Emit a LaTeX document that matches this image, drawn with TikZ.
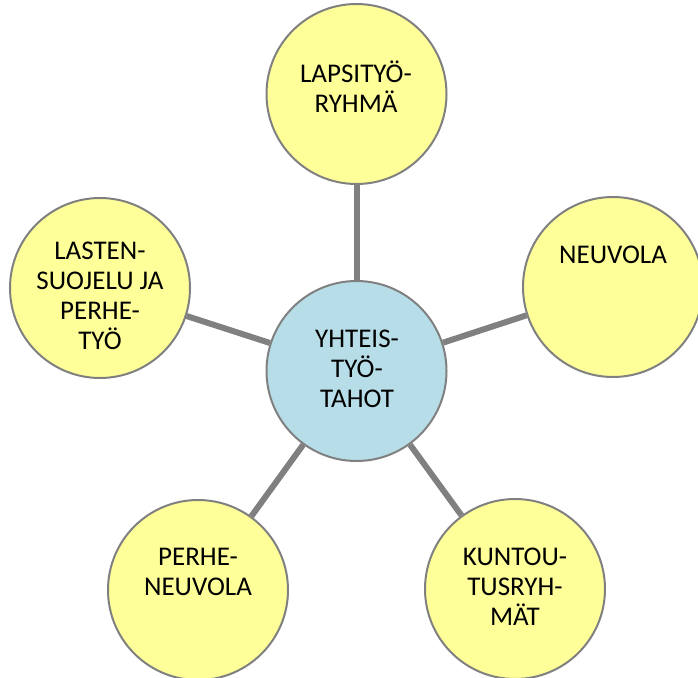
\documentclass[tikz,border=0pt]{standalone}
\usepackage{fontspec}
\setmainfont{Carlito}
\usetikzlibrary{calc}
\definecolor{pale}{RGB}{255,255,153}
\definecolor{paleblue}{RGB}{183,222,232}
\definecolor{rim}{RGB}{128,128,128}
\tikzset{
  ball/.style={circle, draw=rim, line width=2pt, fill=pale, minimum size=180pt, inner sep=0pt},
  hub/.style={ball, fill=paleblue},
  tag/.style={align=center, font=\fontsize{27}{30}\selectfont, inner sep=0pt},
  spoke/.style={draw=rim, line width=6pt}
}
\begin{document}
\begin{tikzpicture}[x=1pt, y=-1pt]
        \useasboundingbox (0,0) rectangle (698,677);
        \clip (0,0) rectangle (698,677);

        \node[hub]  (tahot)   at (356.5,371) {};
        \node[ball] (lapsi)   at (356.5,94)  {};
        \node[ball] (neuvola) at (613,287) {};
        \node[ball] (lasten)  at (100,288) {};
        \node[ball] (perhe)   at (198,590) {};
        \node[ball] (kuntou)  at (515,589) {};

        \draw[spoke] (tahot) -- (lapsi);
        \draw[spoke] (tahot) -- (neuvola);
        \draw[spoke] (tahot) -- (lasten);
        \draw[spoke] (tahot) -- (perhe);
        \draw[spoke] (tahot) -- (kuntou);

        \node[tag] (tahot-t)   at (357,369) {YHTEIS-\\TYÖ-\\TAHOT};
        \node[tag] (lapsi-t)   at (356,87)  {LAPSITYÖ-\\RYHMÄ};
        \node[tag] (neuvola-t) at (613,255) {NEUVOLA};
        \node[tag] (lasten-t)  at (100,296) {LASTEN-\\SUOJELU JA\\PERHE-\\TYÖ};
        \node[tag] (perhe-t)   at (198,572) {PERHE-\\NEUVOLA};
        \node[tag] (kuntou-t)  at (515,587) {KUNTOU-\\TUSRYH-\\MÄT};
    \end{tikzpicture}
\end{document}
